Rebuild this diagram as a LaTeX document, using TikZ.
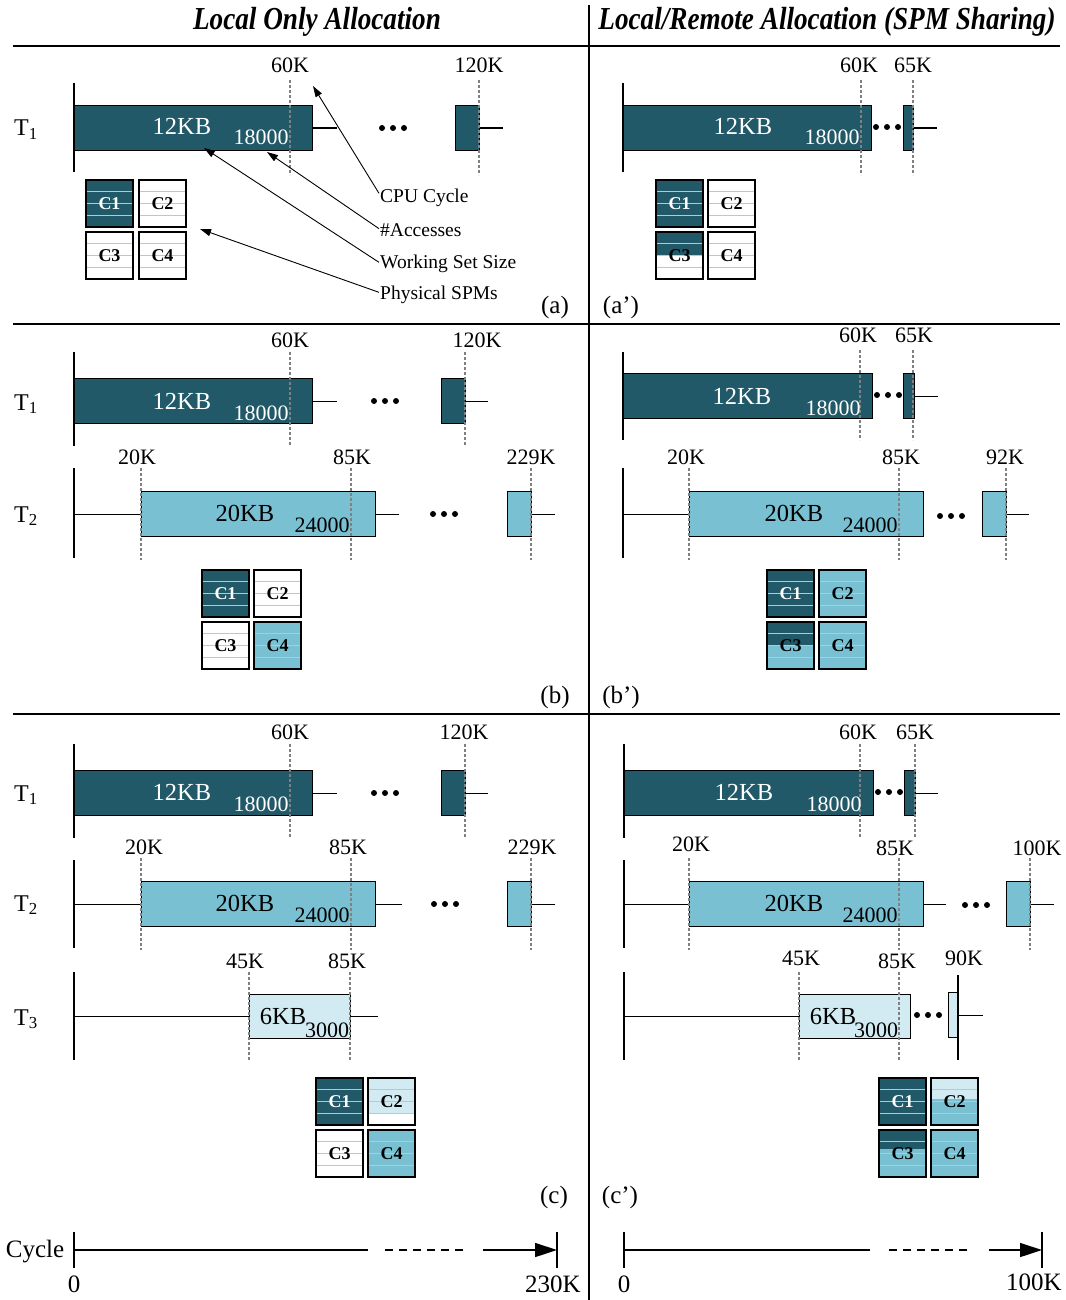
\documentclass[tikz,border=0pt]{standalone}
\usepackage{fontspec}
\setmainfont{Liberation Serif}
\usepackage{graphicx}
\usetikzlibrary{arrows.meta}
\definecolor{dk}{HTML}{215968}
\definecolor{lt}{HTML}{78C0D2}
\definecolor{vl}{HTML}{D2EAF1}
\definecolor{gridgray}{HTML}{C4C4C4}
\newcommand\fs[1]{\fontsize{#1}{#1}\selectfont}
\newcommand\spmbox[8]{%
  \fill[#6] (#2,#3) rectangle ++(47,47);
  \fill[#4] (#2,#3) rectangle ++(47,47*#5);
  \foreach \q in {0.25,0.5,0.75}{\draw[spmgrid] (#2,#3+47*\q) -- ++(47,0);}
  \node[spm, text=#8] (#1) at (#2+23.5,#3+23.5) {#7};
}
\tikzset{
  hdr/.style={anchor=base, inner sep=0, font=\fs{32}\bfseries\itshape},
  tname/.style={anchor=base, inner sep=0, font=\fs{24}},
  tk/.style={anchor=base, inner sep=0, font=\fs{22}},
  bigw/.style={anchor=base, inner sep=0, font=\fs{24.5}, text=white},
  numw/.style={anchor=base, inner sep=0, font=\fs{22}, text=white},
  bigb/.style={anchor=base, inner sep=0, font=\fs{24.5}},
  numb/.style={anchor=base, inner sep=0, font=\fs{22}},
  ann/.style={anchor=base west, inner sep=1pt, font=\fs{19.5}},
  plab/.style={anchor=base, inner sep=0, font=\fs{25}},
  taskbar/.style={draw, line width=1.3pt, inner sep=0, minimum height=45pt, anchor=north west},
  starttick/.style={line width=1.6pt},
  conn/.style={line width=1.3pt},
  guide/.style={draw=gray, line width=1.1pt, dash pattern=on 3pt off 2pt},
  spm/.style={draw, line width=1.7pt, minimum size=47pt, inner sep=0, font=\fs{18}\bfseries},
  spmgrid/.style={draw=gridgray, line width=1.1pt},
  sepline/.style={line width=2pt},
  annarrow/.style={line width=0.9pt, -{Triangle[length=11pt,width=7pt]}},
  axisarrow/.style={line width=1.5pt, -{Triangle[length=22pt,width=14pt]}},
  threedots/.pic={\fill (-11,0) circle[radius=3]; \fill (0,0) circle[radius=3]; \fill (11,0) circle[radius=3];}
}
\begin{document}
\begin{tikzpicture}[x=1pt,y=-1pt]
\useasboundingbox (0,0) rectangle (1065,1300);
\fill[white] (0,0) rectangle (1065,1300);

% ---------- headers and separators ----------
\node[hdr] (hL) at (317,30) {\scalebox{0.85}[1]{Local Only Allocation}};
\node[hdr] (hR) at (827,30) {\scalebox{0.85}[1]{Local/Remote Allocation (SPM Sharing)}};
\draw[line width=2.5pt] (13,46) -- (1060,46);
\draw[sepline] (13,324) -- (1060,324);
\draw[sepline] (13,714) -- (1060,714);
\draw[sepline] (589,5) -- (589,1300);

% =============== Panel (a) ===============
\node[tname] (aT1) at (26,136) {T\textsubscript{1}};
\draw[starttick] (74,83) -- (74,172);
\node[taskbar, fill=dk, minimum width=238pt] (aB1) at (74,105) {};
\node[taskbar, fill=dk, minimum width=24pt] (aB1e) at (455,105) {};
\coordinate (aB1t) at (337,127);
\coordinate (aE1) at (503,127);
\draw[conn] (aB1.east) -- (aB1.east -| aB1t);
\draw[conn] (aB1e.east) -- (aB1e.east -| aE1);
\pic at (393,128) {threedots};
\draw[guide] (290,80) -- (290,175);
\draw[guide] (479,80) -- (479,175);
\node[tk] (la60) at (290,73) {60K};
\node[tk] (la120) at (479,73) {120K};
\node[bigw] (aKB) at (182,135) {12KB};
\node[numw] (aAcc) at (261,145) {18000};
\spmbox{aC1}{86}{180}{dk}{1}{white}{C1}{white}
\spmbox{aC2}{139}{180}{white}{0}{white}{C2}{black}
\spmbox{aC3}{86}{232}{white}{0}{white}{C3}{black}
\spmbox{aC4}{139}{232}{white}{0}{white}{C4}{black}
\node[ann] (nCPU) at (379,203) {CPU Cycle};
\node[ann] (nAcc) at (379,236) {\#Accesses};
\node[ann] (nWSS) at (379,268) {Working Set Size};
\node[ann] (nPhy) at (379,299) {Physical SPMs};
\coordinate (tCPU) at (313,86);
\coordinate (tAcc) at (267,152);
\coordinate (tWSS) at (204,148);
\coordinate (tPhy) at (200,229);
\draw[annarrow] ([yshift=5pt]nCPU.west) -- (tCPU);
\draw[annarrow] ([yshift=1pt]nAcc.west) -- (tAcc);
\draw[annarrow] ([yshift=1pt]nWSS.west) -- (tWSS);
\draw[annarrow] ([yshift=2pt]nPhy.west) -- (tPhy);
\node[plab] (pa) at (555,313) {(a)};

% =============== Panel (a') ===============
\draw[starttick] (623,83) -- (623,172);
\node[taskbar, fill=dk, minimum width=248pt] (rB1) at (623,105) {};
\node[taskbar, fill=dk, minimum width=10pt] (rB1e) at (903,105) {};
\coordinate (rE1) at (937,127);
\draw[conn] (rB1e.east) -- (rB1e.east -| rE1);
\pic at (887,127) {threedots};
\draw[guide] (861,80) -- (861,175);
\draw[guide] (913,80) -- (913,175);
\node[tk] (lr60) at (859,73) {60K};
\node[tk] (lr65) at (913,73) {65K};
\node[bigw] (rKB) at (743,135) {12KB};
\node[numw] (rAcc) at (832,145) {18000};
\spmbox{rC1}{656}{180}{dk}{1}{white}{C1}{white}
\spmbox{rC2}{708}{180}{white}{0}{white}{C2}{black}
\spmbox{rC3}{656}{232}{dk}{0.5}{white}{C3}{black}
\spmbox{rC4}{708}{232}{white}{0}{white}{C4}{black}
\node[plab] (par) at (621,313) {(a’)};

% =============== Panel (b) ===============
\node[tname] (bT1) at (26,410) {T\textsubscript{1}};
\draw[starttick] (74,352) -- (74,446);
\node[taskbar, fill=dk, minimum width=238pt] (bB1) at (74,378) {};
\node[taskbar, fill=dk, minimum width=24pt] (bB1e) at (441,378) {};
\coordinate (bB1t) at (337,401);
\coordinate (bE1) at (488,401);
\draw[conn] (bB1.east) -- (bB1.east -| bB1t);
\draw[conn] (bB1e.east) -- (bB1e.east -| bE1);
\pic at (385,401) {threedots};
\draw[guide] (290,352) -- (290,446);
\draw[guide] (465,352) -- (465,446);
\node[tk] (lb60) at (290,347) {60K};
\node[tk] (lb120) at (477,347) {120K};
\node[bigw] (bKB1) at (182,409) {12KB};
\node[numw] (bAcc1) at (261,420) {18000};

\node[tname] (bT2) at (26,522) {T\textsubscript{2}};
\draw[starttick] (74,468) -- (74,558);
\coordinate (bS2) at (74,514);
\node[taskbar, fill=lt, minimum width=234pt] (bB2) at (141,491) {};
\node[taskbar, fill=lt, minimum width=24pt] (bB2e) at (507,491) {};
\coordinate (bB2t) at (399,514);
\coordinate (bE2) at (555,514);
\draw[conn] (bS2 |- bB2.west) -- (bB2.west);
\draw[conn] (bB2.east) -- (bB2.east -| bB2t);
\draw[conn] (bB2e.east) -- (bB2e.east -| bE2);
\pic at (444,514) {threedots};
\draw[guide] (141,468) -- (141,560);
\draw[guide] (351,468) -- (351,560);
\draw[guide] (531,468) -- (531,560);
\node[tk] (lb20) at (137,464) {20K};
\node[tk] (lb85) at (352,464) {85K};
\node[tk] (lb229) at (531,464) {229K};
\node[bigb] (bKB2) at (245,521) {20KB};
\node[numb] (bAcc2) at (322,532) {24000};
\spmbox{bC1}{202}{570}{dk}{1}{white}{C1}{white}
\spmbox{bC2}{254}{570}{white}{0}{white}{C2}{black}
\spmbox{bC3}{202}{622}{white}{0}{white}{C3}{black}
\spmbox{bC4}{254}{622}{lt}{1}{lt}{C4}{black}
\node[plab] (pb) at (555,703) {(b)};

% =============== Panel (b') ===============
\draw[starttick] (623,352) -- (623,440);
\node[taskbar, fill=dk, minimum width=249pt] (sB1) at (623,373) {};
\node[taskbar, fill=dk, minimum width=11pt] (sB1e) at (903,373) {};
\coordinate (sE1) at (938,396);
\draw[conn] (sB1e.east) -- (sB1e.east -| sE1);
\pic at (888,395) {threedots};
\draw[guide] (860,350) -- (860,440);
\draw[guide] (913,350) -- (913,440);
\node[tk] (ls60) at (858,342) {60K};
\node[tk] (ls65) at (914,342) {65K};
\node[bigw] (sKB1) at (742,404) {12KB};
\node[numw] (sAcc1) at (833,415) {18000};

\draw[starttick] (623,468) -- (623,558);
\coordinate (sS2) at (623,514);
\node[taskbar, fill=lt, minimum width=234pt] (sB2) at (689,491) {};
\node[taskbar, fill=lt, minimum width=24pt] (sB2e) at (982,491) {};
\coordinate (sE2) at (1029,514);
\draw[conn] (sS2 |- sB2.west) -- (sB2.west);
\draw[conn] (sB2e.east) -- (sB2e.east -| sE2);
\pic at (951,516) {threedots};
\draw[guide] (689,468) -- (689,560);
\draw[guide] (899,468) -- (899,560);
\draw[guide] (1006,468) -- (1006,560);
\node[tk] (ls20) at (686,464) {20K};
\node[tk] (ls85) at (901,464) {85K};
\node[tk] (ls92) at (1005,464) {92K};
\node[bigb] (sKB2) at (794,521) {20KB};
\node[numb] (sAcc2) at (870,532) {24000};
\spmbox{sC1}{767}{570}{dk}{1}{white}{C1}{white}
\spmbox{sC2}{819}{570}{lt}{1}{lt}{C2}{black}
\spmbox{sC3}{767}{622}{dk}{0.5}{lt}{C3}{black}
\spmbox{sC4}{819}{622}{lt}{1}{lt}{C4}{black}
\node[plab] (pbr) at (621,703) {(b’)};

% =============== Panel (c) ===============
\node[tname] (cT1) at (26,801) {T\textsubscript{1}};
\draw[starttick] (74,744) -- (74,838);
\node[taskbar, fill=dk, minimum width=238pt] (cB1) at (74,770) {};
\node[taskbar, fill=dk, minimum width=24pt] (cB1e) at (441,770) {};
\coordinate (cB1t) at (337,792);
\coordinate (cE1) at (488,792);
\draw[conn] (cB1.east) -- (cB1.east -| cB1t);
\draw[conn] (cB1e.east) -- (cB1e.east -| cE1);
\pic at (385,793) {threedots};
\draw[guide] (290,744) -- (290,838);
\draw[guide] (465,744) -- (465,838);
\node[tk] (lc60) at (290,739) {60K};
\node[tk] (lc120) at (464,739) {120K};
\node[bigw] (cKB1) at (182,800) {12KB};
\node[numw] (cAcc1) at (261,811) {18000};

\node[tname] (cT2) at (26,911) {T\textsubscript{2}};
\draw[starttick] (74,860) -- (74,948);
\coordinate (cS2) at (74,903);
\node[taskbar, fill=lt, minimum width=234pt] (cB2) at (141,881) {};
\node[taskbar, fill=lt, minimum width=24pt] (cB2e) at (507,881) {};
\coordinate (cB2t) at (402,903);
\coordinate (cE2) at (555,903);
\draw[conn] (cS2 |- cB2.west) -- (cB2.west);
\draw[conn] (cB2.east) -- (cB2.east -| cB2t);
\draw[conn] (cB2e.east) -- (cB2e.east -| cE2);
\pic at (445,904) {threedots};
\draw[guide] (141,858) -- (141,950);
\draw[guide] (351,858) -- (351,950);
\draw[guide] (531,858) -- (531,950);
\node[tk] (lc20) at (144,854) {20K};
\node[tk] (lc85) at (348,854) {85K};
\node[tk] (lc229) at (532,854) {229K};
\node[bigb] (cKB2) at (245,911) {20KB};
\node[numb] (cAcc2) at (322,922) {24000};

\node[tname] (cT3) at (26,1025) {T\textsubscript{3}};
\draw[starttick] (74,972) -- (74,1060);
\coordinate (cS3) at (74,1016);
\node[taskbar, fill=vl, minimum width=101pt, minimum height=44pt] (cB3) at (249,994) {};
\coordinate (cB3t) at (378,1016);
\draw[conn] (cS3 |- cB3.west) -- (cB3.west);
\draw[conn] (cB3.east) -- (cB3.east -| cB3t);
\draw[guide] (249,972) -- (249,1060);
\draw[guide] (350,972) -- (350,1060);
\node[tk] (lc45) at (245,968) {45K};
\node[tk] (lc85b) at (347,968) {85K};
\node[bigb] (cKB3) at (283,1024) {6KB};
\node[numb] (cAcc3) at (327,1037) {3000};
\spmbox{cC1}{316}{1078}{dk}{1}{white}{C1}{white}
\spmbox{cC2}{368}{1078}{vl}{0.75}{white}{C2}{black}
\spmbox{cC3}{316}{1130}{white}{0}{white}{C3}{black}
\spmbox{cC4}{368}{1130}{lt}{1}{lt}{C4}{black}
\node[plab] (pc) at (554,1203) {(c)};

% =============== Panel (c') ===============
\draw[starttick] (624,744) -- (624,838);
\node[taskbar, fill=dk, minimum width=249pt] (uB1) at (624,770) {};
\node[taskbar, fill=dk, minimum width=11pt] (uB1e) at (904,770) {};
\coordinate (uE1) at (938,792);
\draw[conn] (uB1e.east) -- (uB1e.east -| uE1);
\pic at (889,792) {threedots};
\draw[guide] (860,744) -- (860,838);
\draw[guide] (915,744) -- (915,838);
\node[tk] (lu60) at (858,739) {60K};
\node[tk] (lu65) at (915,739) {65K};
\node[bigw] (uKB1) at (744,800) {12KB};
\node[numw] (uAcc1) at (834,811) {18000};

\draw[starttick] (624,860) -- (624,948);
\coordinate (uS2) at (624,903);
\node[taskbar, fill=lt, minimum width=234pt] (uB2) at (689,881) {};
\node[taskbar, fill=lt, minimum width=24pt] (uB2e) at (1006,881) {};
\coordinate (uB2t) at (946,903);
\coordinate (uE2) at (1054,903);
\draw[conn] (uS2 |- uB2.west) -- (uB2.west);
\draw[conn] (uB2.east) -- (uB2.east -| uB2t);
\draw[conn] (uB2e.east) -- (uB2e.east -| uE2);
\pic at (976,905) {threedots};
\draw[guide] (689,858) -- (689,950);
\draw[guide] (899,858) -- (899,950);
\draw[guide] (1030,858) -- (1030,950);
\node[tk] (lu20) at (691,851) {20K};
\node[tk] (lu85) at (895,855) {85K};
\node[tk] (lu100) at (1037,855) {100K};
\node[bigb] (uKB2) at (794,911) {20KB};
\node[numb] (uAcc2) at (870,922) {24000};

\draw[starttick] (624,972) -- (624,1060);
\coordinate (uS3) at (624,1016);
\node[taskbar, fill=vl, minimum width=111pt, minimum height=44pt] (uB3) at (799,994) {};
\node[taskbar, fill=vl, minimum width=10pt, minimum height=45pt] (uB3e) at (948,992) {};
\coordinate (uE3) at (983,1014);
\draw[conn] (uS3 |- uB3.west) -- (uB3.west);
\draw[starttick] (958,975) -- (958,1060);
\draw[conn] (uB3e.east) -- (uB3e.east -| uE3);
\pic at (928,1015) {threedots};
\draw[guide] (799,972) -- (799,1060);
\draw[guide] (899,972) -- (899,1060);
\node[tk] (lu45) at (801,965) {45K};
\node[tk] (lu85b) at (897,968) {85K};
\node[tk] (lu90) at (964,965) {90K};
\node[bigb] (uKB3) at (833,1024) {6KB};
\node[numb] (uAcc3) at (876,1037) {3000};
\spmbox{uC1}{879}{1078}{dk}{1}{white}{C1}{white}
\spmbox{uC2}{931}{1078}{vl}{0.45}{lt}{C2}{black}
\spmbox{uC3}{879}{1130}{dk}{0.4}{lt}{C3}{black}
\spmbox{uC4}{931}{1130}{lt}{1}{lt}{C4}{black}
\node[plab] (pcr) at (620,1203) {(c’)};

% =============== Cycle axes ===============
\node[plab] (cyc) at (35,1257) {Cycle};
\coordinate (xL0) at (74,1250);
\coordinate (xL1) at (368,1250);
\coordinate (xL2) at (385,1250);
\coordinate (xL3) at (465,1250);
\coordinate (xL4) at (483,1250);
\coordinate (xL5) at (557,1250);
\draw[starttick] (74,1232) -- (74,1268);
\draw[starttick] (557,1232) -- (557,1268);
\draw[conn] (xL0) -- (xL1);
\draw[conn, dash pattern=on 8pt off 6pt] (xL2) -- (xL3);
\draw[axisarrow] (xL4) -- (xL5);
\node[plab] (x0) at (74,1292) {0};
\node[plab] (x230) at (553,1292) {230K};

\coordinate (xR0) at (624,1250);
\coordinate (xR1) at (870,1250);
\coordinate (xR2) at (889,1250);
\coordinate (xR3) at (969,1250);
\coordinate (xR4) at (989,1250);
\coordinate (xR5) at (1042,1250);
\draw[starttick] (624,1232) -- (624,1268);
\draw[starttick] (1042,1232) -- (1042,1268);
\draw[conn] (xR0) -- (xR1);
\draw[conn, dash pattern=on 8pt off 6pt] (xR2) -- (xR3);
\draw[axisarrow] (xR4) -- (xR5);
\node[plab] (y0) at (624,1292) {0};
\node[plab] (y100) at (1034,1290) {100K};
\end{tikzpicture}
\end{document}
